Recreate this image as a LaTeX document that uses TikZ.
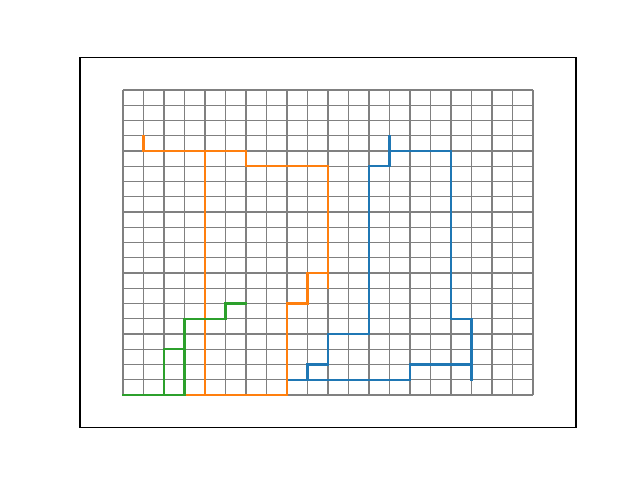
\documentclass[tikz,border=0pt]{standalone}
\begin{document}
\begin{tikzpicture}[x=0.72pt,y=-0.72pt,
  gridline/.style={draw=gray,line width=0.75pt},
  pathline/.style={line width=1.5pt,line cap=rect,line join=miter},
  frame/.style={draw=black,line width=0.8pt}]
\useasboundingbox (0,0) rectangle (640,480);
% grid transform: i -> 123+20.5 i, j -> 395-15.25 j
\begin{scope}[shift={(123,395)},x=14.76pt,y=10.98pt]
  \foreach \i in {0,...,20} {\draw[gridline] (\i,0) -- (\i,20);}
  \foreach \j in {0,...,20} {\draw[gridline] (0,\j) -- (20,\j);}
  % blue
  \draw[pathline,color={rgb,255:red,31;green,119;blue,180}] (8,1) -- (14,1) -- (14,2) -- (17,2);
  \draw[pathline,color={rgb,255:red,31;green,119;blue,180}] (17,1) -- (17,5) -- (16,5) -- (16,16) -- (13,16);
  \draw[pathline,color={rgb,255:red,31;green,119;blue,180}] (13,17) -- (13,15) -- (12,15) -- (12,4) -- (10,4) -- (10,2) -- (9,2) -- (9,1);
  % orange
  \draw[pathline,color={rgb,255:red,255;green,127;blue,14}] (1,17) -- (1,16) -- (6,16) -- (6,15) -- (10,15) -- (10,7);
  \draw[pathline,color={rgb,255:red,255;green,127;blue,14}] (10,8) -- (9,8) -- (9,6) -- (8,6) -- (8,0) -- (3,0);
  \draw[pathline,color={rgb,255:red,255;green,127;blue,14}] (4,0) -- (4,16);
  % green
  \draw[pathline,color={rgb,255:red,44;green,160;blue,44}] (0,0) -- (3,0);
  \draw[pathline,color={rgb,255:red,44;green,160;blue,44}] (2,0) -- (2,3) -- (3,3);
  \draw[pathline,color={rgb,255:red,44;green,160;blue,44}] (3,0) -- (3,5) -- (5,5) -- (5,6) -- (6,6);
\end{scope}
\draw[frame] (80,57.6) rectangle (576,427.2);
\end{tikzpicture}
\end{document}
